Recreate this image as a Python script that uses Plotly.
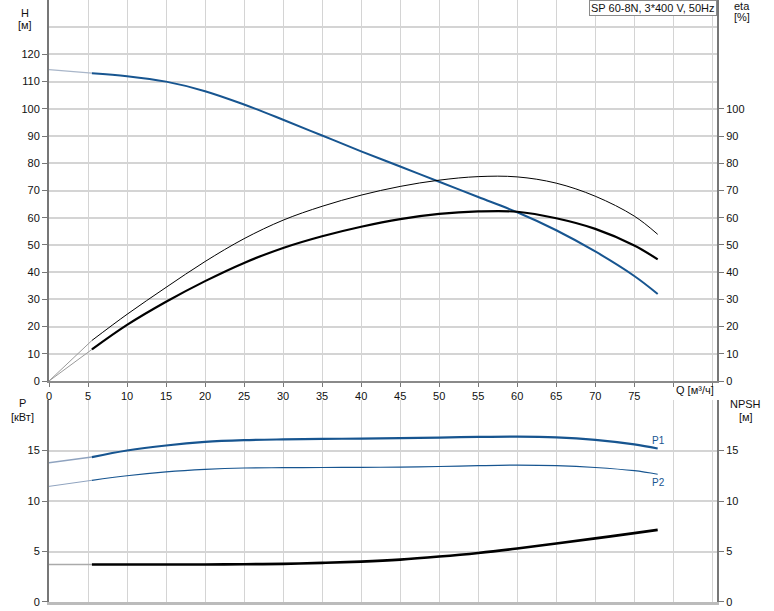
import plotly.graph_objects as go

# ---- data ----
Q_ext = [0, 5.5]
Q_main = [5.5, 10, 15, 20, 25, 30, 35, 40, 45, 50, 55, 60, 65, 70, 75, 78]

H_ext = [114.4, 113.1]
H_main = [113.1, 112.0, 110.0, 106.5, 101.6, 96.0, 90.2, 84.4, 78.8, 73.2, 67.6, 62.0, 55.4, 47.6, 38.6, 32.0]

eta_tot_ext = [0, 14.9]
eta_tot_main = [14.9, 24.5, 34.4, 43.9, 52.3, 59.1, 64.2, 68.3, 71.5, 73.8, 75.1, 75.0, 72.7, 67.9, 60.6, 53.9]

eta_pump_ext = [0, 11.6]
eta_pump_main = [11.6, 20.6, 29.1, 36.7, 43.4, 48.9, 53.2, 56.7, 59.5, 61.4, 62.3, 62.2, 59.8, 55.9, 49.8, 44.7]

P1_ext = [13.8, 14.35]
P1_main = [14.35, 15.0, 15.5, 15.85, 16.02, 16.1, 16.15, 16.18, 16.22, 16.28, 16.35, 16.38, 16.3, 16.05, 15.6, 15.2]

P2_ext = [11.45, 12.05]
P2_main = [12.05, 12.5, 12.88, 13.13, 13.27, 13.3, 13.32, 13.33, 13.36, 13.42, 13.5, 13.55, 13.5, 13.32, 13.0, 12.65]

NPSH_ext = [3.72, 3.72]
NPSH_main = [3.72, 3.72, 3.72, 3.72, 3.74, 3.78, 3.87, 4.0, 4.2, 4.5, 4.86, 5.3, 5.8, 6.3, 6.82, 7.14]

x_tickvals = list(range(0, 90, 5))
x_ticktext = [str(v) if v <= 75 else "" for v in x_tickvals]
H_ticks = list(range(0, 130, 10))
eta_ticks = list(range(0, 110, 10))
P_ticks = [0, 5, 10, 15]
NPSH_ticks = [0, 5, 10, 15]

title_text = "SP 60-8N, 3*400 V, 50Hz"

BLUE = "#175590"
FONT = "Liberation Sans, Arial, sans-serif"

fig = go.Figure()

def add(x, y, xa, ya, color, width):
    fig.add_trace(go.Scatter(x=x, y=y, xaxis=xa, yaxis=ya, mode="lines",
                             line=dict(color=color, width=width, shape="spline", smoothing=1.0),
                             hoverinfo="skip", showlegend=False))

# top plot
add(Q_ext, H_ext, "x", "y", "#a9b6c9", 1.2)
add(Q_main, H_main, "x", "y", BLUE, 2)
add(Q_ext, eta_tot_ext, "x", "y2", "#9a9a9a", 1)
add(Q_main, eta_tot_main, "x", "y2", "#000000", 1)
add(Q_ext, eta_pump_ext, "x", "y2", "#9a9a9a", 1)
add(Q_main, eta_pump_main, "x", "y2", "#000000", 2.2)

# bottom plot
add(Q_ext, P1_ext, "x2", "y3", "#8fa3bf", 1.5)
add(Q_main, P1_main, "x2", "y3", BLUE, 2.2)
add(Q_ext, P2_ext, "x2", "y3", "#8fa3bf", 1)
add(Q_main, P2_main, "x2", "y3", BLUE, 1.2)
add(Q_ext, NPSH_ext, "x2", "y4", "#aaaaaa", 1.5)
add(Q_main, NPSH_main, "x2", "y4", "#000000", 2.6)

tickfont = dict(family=FONT, size=11, color="#111111")
GRID = "#d4d4d4"

fig.update_layout(
    width=774, height=611,
    margin=dict(l=49, r=57, t=0, b=9, autoexpand=False),
    paper_bgcolor="white", plot_bgcolor="white",
    font=dict(family=FONT, size=11, color="#111111"),
    xaxis=dict(domain=[0, 1], range=[0, 85.6], anchor="y", automargin=False,
               tickvals=x_tickvals, ticktext=x_ticktext, ticks="outside", ticklen=4,
               tickcolor="#777777", tickfont=tickfont, showgrid=True, gridcolor=GRID, gridwidth=1,
               showline=True, linecolor="#8a8a8a", linewidth=2, zeroline=False),
    yaxis=dict(domain=[0.3671, 1], range=[0, 140], anchor="x", automargin=False,
               tickvals=H_ticks, ticks="outside", ticklen=5, tickcolor="#777777",
               tickfont=tickfont, showgrid=True, gridcolor=GRID, gridwidth=1.5,
               minor=dict(tickvals=[130], showgrid=True, gridcolor=GRID, gridwidth=1.5, ticks=""),
               showline=True, linecolor="#777777", linewidth=2, zeroline=False),
    yaxis2=dict(range=[0, 140], overlaying="y", side="right", anchor="x", automargin=False,
                tickvals=eta_ticks, ticks="outside", ticklen=5, tickcolor="#777777",
                tickfont=tickfont, showgrid=False,
                showline=True, linecolor="#777777", linewidth=2, zeroline=False),
    xaxis2=dict(domain=[0, 1], range=[0, 85.6], anchor="y3", automargin=False,
                tickvals=x_tickvals, showticklabels=False, ticks="",
                showgrid=True, gridcolor=GRID, gridwidth=1,
                showline=True, linecolor="#bbbbbb", linewidth=3, zeroline=False),
    yaxis3=dict(domain=[0, 0.3355], range=[0, 20], anchor="x2", automargin=False,
                tickvals=P_ticks, ticks="outside", ticklen=5, tickcolor="#777777",
                tickfont=tickfont, showgrid=True, gridcolor=GRID, gridwidth=1.5,
                showline=True, linecolor="#777777", linewidth=2, zeroline=False),
    yaxis4=dict(range=[0, 20], overlaying="y3", side="right", anchor="x2", automargin=False,
                tickvals=NPSH_ticks, ticks="outside", ticklen=5, tickcolor="#777777",
                tickfont=tickfont, showgrid=False,
                showline=True, linecolor="#777777", linewidth=2, zeroline=False),
)

def label(text, x, y, color="#111111", size=11, xref="paper", yref="paper", xanchor="center"):
    fig.add_annotation(text=text, x=x, y=y, xref=xref, yref=yref, showarrow=False,
                       xanchor=xanchor, yanchor="middle",
                       font=dict(family=FONT, size=size, color=color))

label("H", -0.036, 1 - 13 / 602)
label("[м]", -0.036, 1 - 25 / 602)
label("eta", 1.037, 1 - 6 / 602)
label("[%]", 1.037, 1 - 17 / 602)
label("P", -0.039, 1 - 403 / 602)
label("[кВт]", -0.039, 1 - 417 / 602)
label("NPSH", 1.043, 1 - 404 / 602)
label("[м]", 1.043, 1 - 417 / 602)
label("Q [м³/ч]", (695 - 49) / 668, 1 - 390 / 602)
label("P1", 77.0, 15.95, color=BLUE, size=10, xref="x2", yref="y3", xanchor="left")
label("P2", 77.0, 11.85, color=BLUE, size=10, xref="x2", yref="y3", xanchor="left")

fig.add_annotation(text=title_text, x=1, y=1, xref="paper", yref="paper",
                   xanchor="right", yanchor="top", showarrow=False,
                   bordercolor="#8a8a8a", borderwidth=1, borderpad=1, bgcolor="white",
                   font=dict(family=FONT, size=11, color="#111111"))

fig.write_html("out.html", config={"displayModeBar": False},
               post_script="document.body.style.margin='0';document.body.style.overflow='hidden';")
